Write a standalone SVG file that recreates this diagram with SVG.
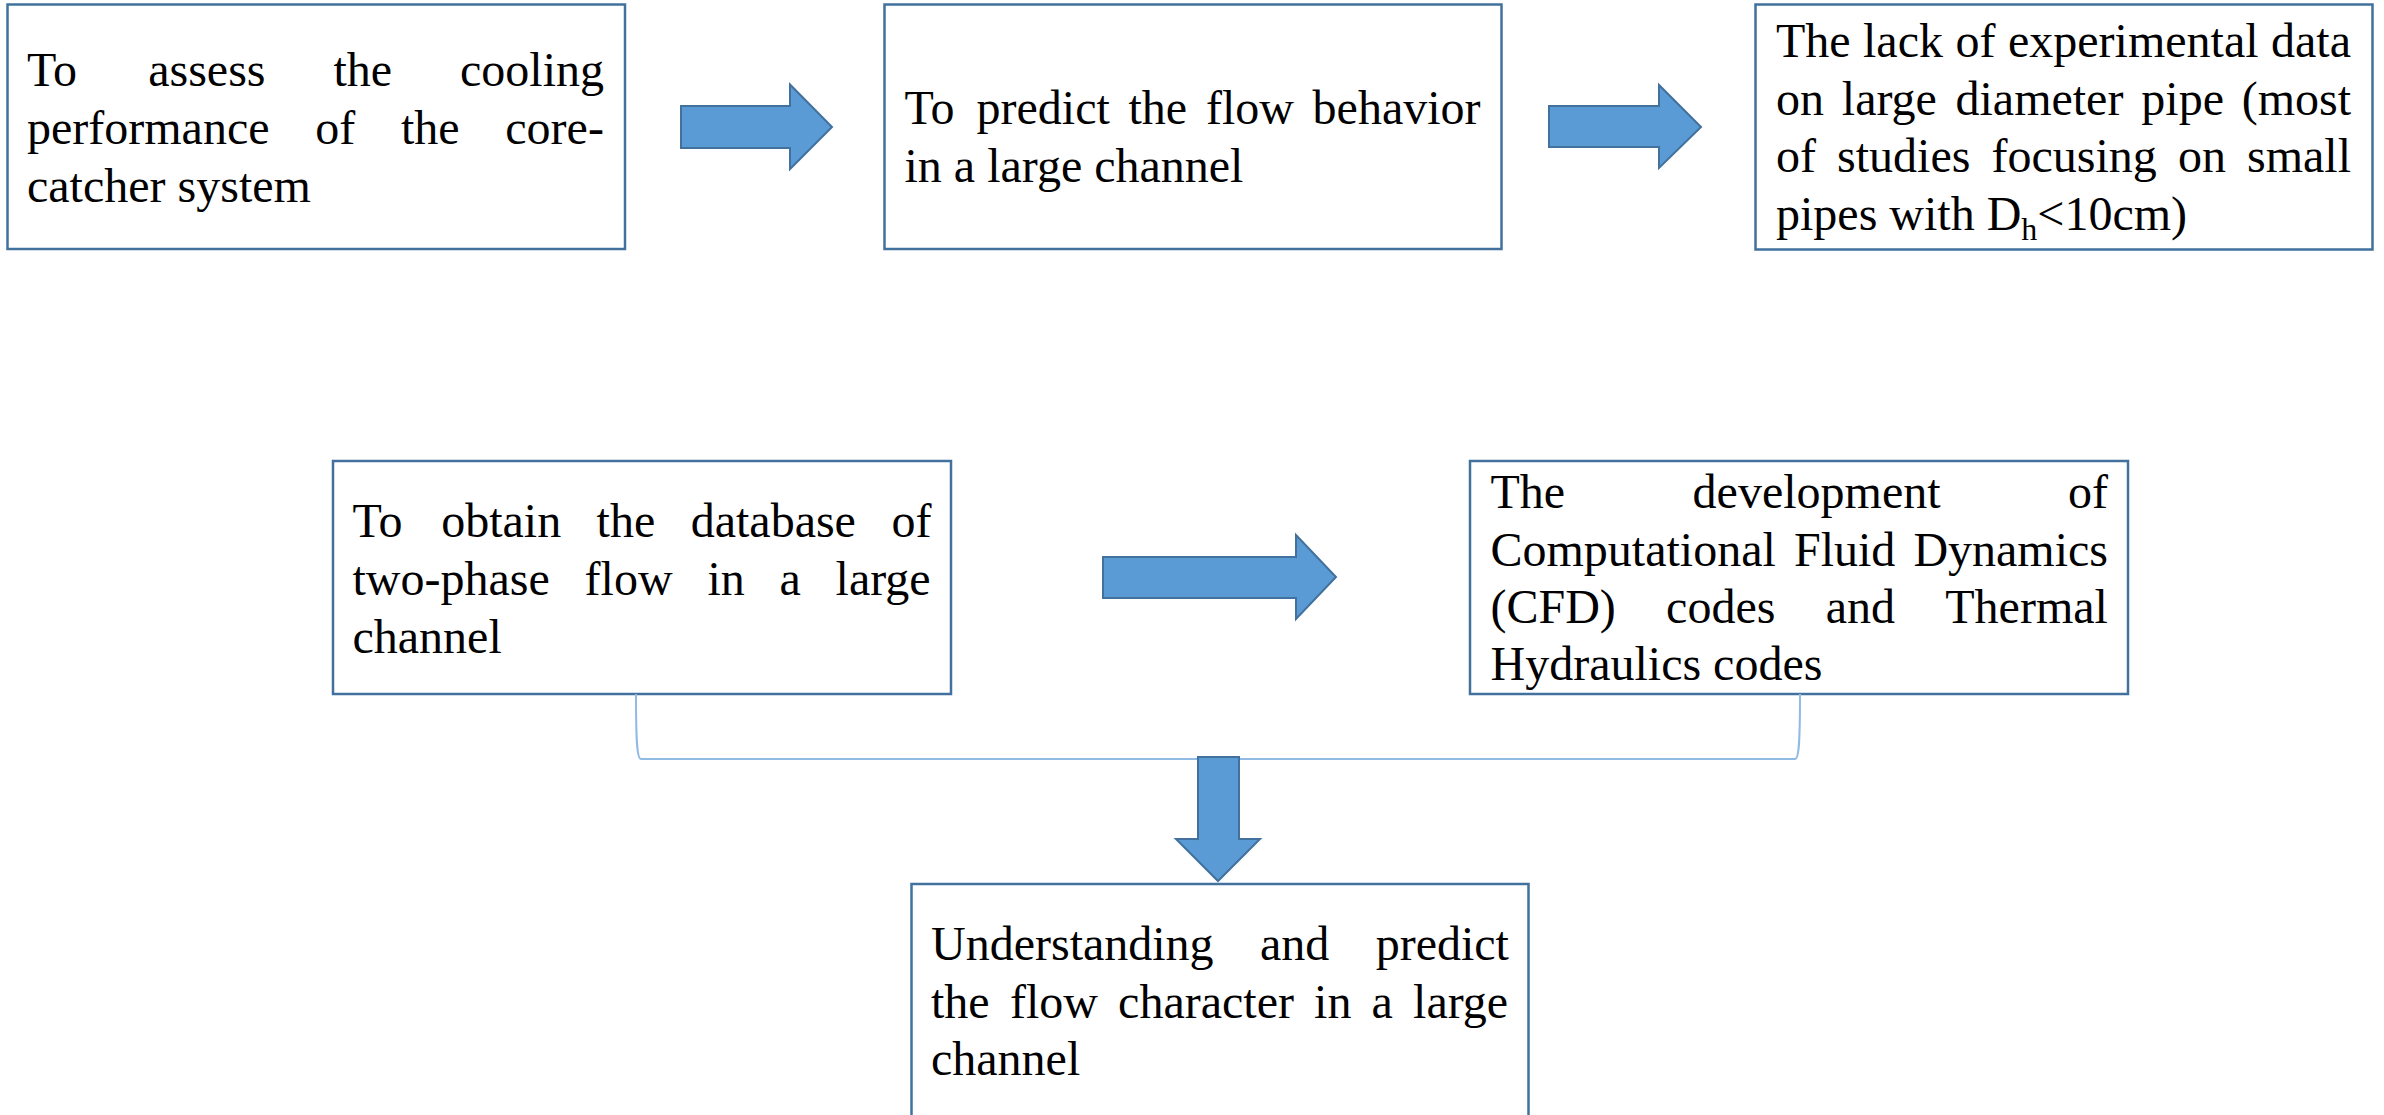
<svg xmlns="http://www.w3.org/2000/svg" width="2384" height="1115" viewBox="0 0 2384 1115">
<style>
.box{fill:#ffffff;stroke:#41719c;stroke-width:2.5}
.arr{fill:#5b9bd5;stroke:#41719c;stroke-width:2;stroke-linejoin:miter}
.br{fill:none;stroke:#8fbbe4;stroke-width:2}
text{font-family:"Liberation Serif","Times New Roman",serif;font-size:48px;fill:#000000}
.sub{font-size:32px}
</style>
<rect width="2384" height="1115" fill="#ffffff"/>
<g id="n1">
<rect class="box" x="7.5" y="4.5" width="617.5" height="244.5"/>
<text y="86"><tspan x="27">To</tspan><tspan x="148.2">assess</tspan><tspan x="333.4">the</tspan><tspan x="460">cooling</tspan></text>
<text y="144"><tspan x="27">performance</tspan><tspan x="315.2">of</tspan><tspan x="400.9">the</tspan><tspan x="505.3">core-</tspan></text>
<text x="27" y="202">catcher system</text>
</g>
<g id="n2">
<rect class="box" x="884.5" y="4.5" width="617" height="244.5"/>
<text y="124"><tspan x="904.5">To</tspan><tspan x="976.5">predict</tspan><tspan x="1128.5">the</tspan><tspan x="1205.9">flow</tspan><tspan x="1312.6">behavior</tspan></text>
<text x="904.5" y="182">in a large channel</text>
</g>
<g id="n3">
<rect class="box" x="1755.5" y="4.5" width="617" height="245"/>
<text y="57"><tspan x="1776">The</tspan><tspan x="1863">lack</tspan><tspan x="1955.5">of</tspan><tspan x="2008">experimental</tspan><tspan x="2271">data</tspan></text>
<text y="114.5"><tspan x="1776">on</tspan><tspan x="1841.8">large</tspan><tspan x="1955.5">diameter</tspan><tspan x="2141.3">pipe</tspan><tspan x="2241.7">(most</tspan></text>
<text y="172"><tspan x="1776">of</tspan><tspan x="1837.1">studies</tspan><tspan x="1991.5">focusing</tspan><tspan x="2177.9">on</tspan><tspan x="2247">small</tspan></text>
<text x="1776" y="229.5">pipes with D<tspan class="sub" dy="10">h</tspan><tspan dy="-10">&lt;10cm)</tspan></text>
</g>
<g id="n4">
<rect class="box" x="333" y="461" width="618" height="233"/>
<text y="537"><tspan x="352.5">To</tspan><tspan x="441.2">obtain</tspan><tspan x="596.6">the</tspan><tspan x="690.7">database</tspan><tspan x="891.4">of</tspan></text>
<text y="595"><tspan x="352.5">two-phase</tspan><tspan x="584.6">flow</tspan><tspan x="707.4">in</tspan><tspan x="779.5">a</tspan><tspan x="835.6">large</tspan></text>
<text x="352.5" y="653">channel</text>
</g>
<g id="n5">
<rect class="box" x="1470" y="461" width="658" height="233"/>
<text y="508"><tspan x="1490.5">The</tspan><tspan x="1692.6">development</tspan><tspan x="2068">of</tspan></text>
<text y="565.5"><tspan x="1490.5">Computational</tspan><tspan x="1794">Fluid</tspan><tspan x="1913.4">Dynamics</tspan></text>
<text y="623"><tspan x="1490.5">(CFD)</tspan><tspan x="1666.1">codes</tspan><tspan x="1825.7">and</tspan><tspan x="1945.3">Thermal</tspan></text>
<text x="1490.5" y="680">Hydraulics codes</text>
</g>
<g id="n6">
<rect class="box" x="911.5" y="884" width="617" height="260"/>
<text y="960"><tspan x="931">Understanding</tspan><tspan x="1260">and</tspan><tspan x="1375.7">predict</tspan></text>
<text y="1018"><tspan x="931">the</tspan><tspan x="1009.9">flow</tspan><tspan x="1118.1">character</tspan><tspan x="1314.1">in</tspan><tspan x="1371.6">a</tspan><tspan x="1413.1">large</tspan></text>
<text x="931" y="1075">channel</text>
</g>
<g id="connectors">
<polygon class="arr" points="681,106 790,106 790,84.5 832,127 790,169 790,148 681,148"/>
<polygon class="arr" points="1549,106 1659,106 1659,85 1701,127 1659,168 1659,147 1549,147"/>
<polygon class="arr" points="1103,557 1296,557 1296,535 1336,577 1296,619 1296,598 1103,598"/>
<path class="br" d="M636,694 C636,742 637,759 641,759 L1795,759 C1799,759 1800,742 1800,694"/>
<polygon class="arr" points="1198,757 1239,757 1239,839 1260,839 1218,881 1176,839 1198,839"/>
</g>
</svg>
